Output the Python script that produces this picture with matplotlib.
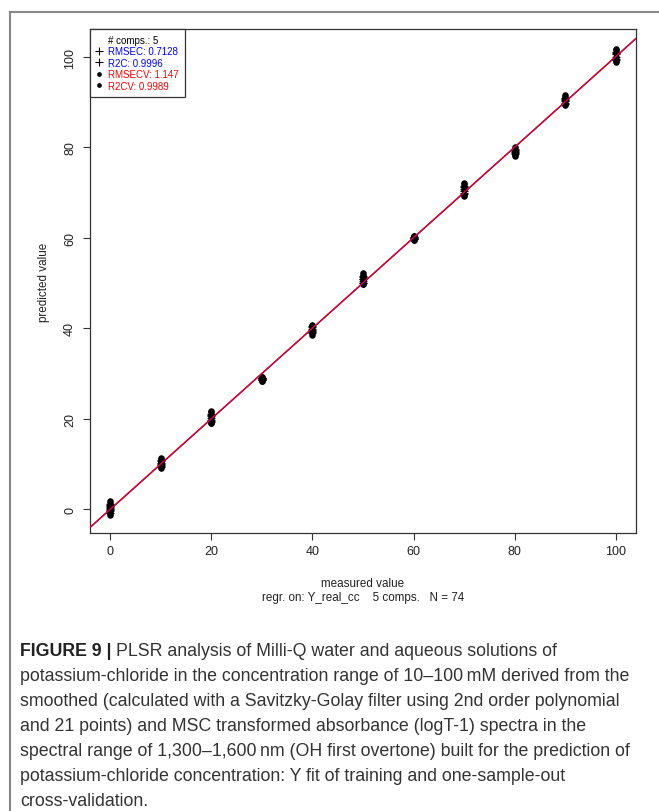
import numpy as np
import matplotlib
matplotlib.use('Agg')
import matplotlib.pyplot as plt
from matplotlib.lines import Line2D

plt.rcParams['font.family'] = ['Liberation Sans', 'DejaVu Sans']

# measured concentration per sample (mM)
measured = ([0] * 9 + [10] * 7 + [20] * 7 + [30] * 7 + [40] * 7 + [50] * 7
            + [60] * 6 + [70] * 6 + [80] * 6 + [90] * 6 + [100] * 6)

# fitted values (training)
pred_train = [0.3, -0.5, 0.9, -0.2, 0.6, 1.2, -0.8, 0.1, 0.4,
              9.3, 10.6, 9.8, 10.2, 9.5, 10.9, 10.0,
              19.3, 20.5, 19.8, 20.9, 19.5, 20.2, 21.0,
              28.7, 29.0, 28.5, 29.1, 28.8, 28.6, 28.9,
              39.2, 40.2, 38.9, 40.5, 39.6, 39.9, 39.3,
              50.0, 51.3, 50.5, 51.0, 49.9, 50.8, 51.6,
              59.7, 60.1, 59.8, 60.2, 59.9, 60.0,
              69.6, 70.4, 71.5, 69.9, 70.9, 71.2,
              78.5, 79.4, 78.9, 79.7, 79.2, 78.7,
              89.9, 90.6, 91.0, 90.2, 89.7, 90.8,
              99.4, 100.6, 101.2, 100.0, 99.6, 101.0]

# one-sample-out cross-validated predictions
pred_cv = [0.5, -0.9, 1.4, -0.4, 0.9, 1.8, -1.3, 0.2, 0.7,
           9.0, 11.1, 9.6, 10.5, 9.2, 11.3, 10.1,
           19.0, 20.8, 19.6, 21.5, 19.1, 20.4, 21.8,
           28.5, 29.2, 28.3, 29.3, 28.7, 28.4, 28.9,
           38.9, 40.6, 38.6, 40.8, 39.5, 39.9, 39.1,
           49.7, 51.7, 50.4, 51.3, 49.7, 51.0, 52.2,
           59.5, 60.3, 59.6, 60.3, 59.8, 60.0,
           69.2, 70.5, 72.1, 69.5, 71.2, 71.8,
           78.1, 79.7, 78.6, 80.0, 79.3, 78.4,
           89.5, 90.9, 91.5, 90.3, 89.4, 91.2,
           99.0, 101.0, 101.8, 100.1, 99.2, 101.5]

legend_labels = ['# comps.: 5', 'RMSEC: 0.7128', 'R2C: 0.9996',
                 'RMSECV: 1.147', 'R2CV: 0.9989']
legend_colors = ['black', 'blue', 'blue', 'red', 'red']

caption_lines = [
    'PLSR analysis of Milli-Q water and aqueous solutions of',
    'potassium-chloride in the concentration range of 10\u2013100\u2009mM derived from the',
    'smoothed (calculated with a Savitzky-Golay filter using 2nd order polynomial',
    'and 21 points) and MSC transformed absorbance (logT-1) spectra in the',
    'spectral range of 1,300\u20131,600\u2009nm (OH first overtone) built for the prediction of',
    'potassium-chloride concentration: Y fit of training and one-sample-out',
    'cross-validation.',
]

W, H = 659, 812
fig = plt.figure(figsize=(W / 100, H / 100), dpi=100)
ax = fig.add_axes([90 / W, 1 - 534 / H, 546 / W, 504 / H])

x = np.array(measured, dtype=float)
yt = np.array(pred_train)
yc = np.array(pred_cv)

ax.scatter(x, yt, marker='+', s=30, color='black', linewidths=0.8, zorder=3)
ax.scatter(x, yc, marker='o', s=22, color='black', linewidths=0, zorder=3)

# fit lines (training in blue, CV in red)
bt = np.polyfit(x, yt, 1)
bc = np.polyfit(x, yc, 1)
ax.axline((0, bt[1]), slope=bt[0], color='blue', lw=1.0, zorder=4)
ax.axline((0, bc[1]), slope=bc[0], color='red', lw=0.9, zorder=5)

ax.set_xlim(-4, 104)
ax.set_ylim(-5.3, 106.2)
ax.set_xticks(range(0, 101, 20))
ax.set_yticks(range(0, 101, 20))
ax.tick_params(direction='out', length=5, width=0.8, colors='#333333',
               labelsize=9, labelcolor='#222222')
ax.tick_params(axis='x', pad=3.5)
ax.tick_params(axis='y', pad=5)
for lab in ax.get_yticklabels():
    lab.set_rotation(90)
    lab.set_va('center')
for sp in ax.spines.values():
    sp.set_color('#333333')
    sp.set_linewidth(0.9)

handles = [Line2D([], [], linestyle='none', marker=None),
           Line2D([], [], linestyle='none', marker='+', color='black', markersize=6, mew=0.8),
           Line2D([], [], linestyle='none', marker='+', color='black', markersize=6, mew=0.8),
           Line2D([], [], linestyle='none', marker='o', color='black', markersize=3.4, mew=0),
           Line2D([], [], linestyle='none', marker='o', color='black', markersize=3.4, mew=0)]
leg = ax.legend(handles, legend_labels, loc='upper left', borderaxespad=0,
                fontsize=7, labelcolor=legend_colors, fancybox=False,
                edgecolor='#333333', framealpha=1, handlelength=0.7,
                handletextpad=0.6, labelspacing=0.15, borderpad=0.6)
leg.get_frame().set_linewidth(0.9)

fig.text(363 / W, 1 - 584 / H, 'measured value', ha='center', va='center',
         fontsize=8.4, color='#222222')
fig.text(363 / W, 1 - 598 / H, 'regr. on: Y_real_cc    5 comps.   N = 74',
         ha='center', va='center', fontsize=8.4, color='#222222')
fig.text(44 / W, 1 - 282 / H, 'predicted value', ha='center', va='center',
         rotation=90, fontsize=8.4, color='#222222')

# outer frame (left and top only)
fig.add_artist(Line2D([10 / W, 10 / W], [0, 1 - 13 / H], color='#888888', lw=1.5))
fig.add_artist(Line2D([10 / W, 1], [1 - 13 / H, 1 - 13 / H], color='#888888', lw=1.5))

# caption
cap_font = ['Liberation Sans', 'DejaVu Sans']
renderer = fig.canvas.get_renderer()
y0 = 652
for i, line in enumerate(caption_lines):
    yy = 1 - (y0 + 25 * i) / H
    xx = 20 / W
    if i == 0:
        t = fig.text(xx, yy, 'FIGURE 9 | ', fontsize=12.8, fontweight='bold',
                     family=cap_font, va='center', color='#222222')
        bb = t.get_window_extent(renderer)
        xx = bb.x1 / W
    fig.text(xx, yy, line, fontsize=12.8, family=cap_font, va='center', color='#333333')

fig.savefig('out.png', dpi=100)
